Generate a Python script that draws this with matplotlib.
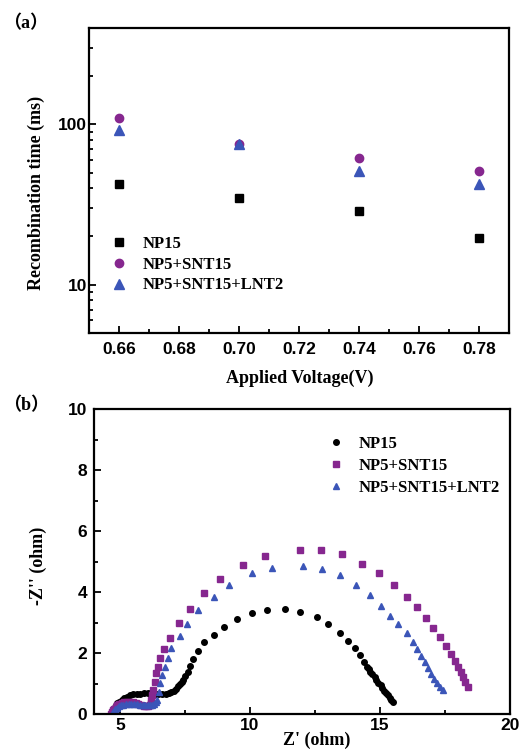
import matplotlib
matplotlib.use("Agg")
import matplotlib.pyplot as plt
from matplotlib.ticker import FixedLocator, NullFormatter, MultipleLocator

# ---- panel (a): recombination time ----
voltage = [0.66, 0.70, 0.74, 0.78]
tau_np15 = [42.2, 34.8, 28.9, 19.6]
tau_snt15 = [110, 75.8, 62, 51]
tau_lnt2 = [91.8, 75, 51.3, 42.6]

# ---- panel (b): Nyquist plots ----
np15_x = [4.65, 4.68, 4.72, 4.77, 4.83, 4.90, 4.98, 5.07, 5.17, 5.28, 5.40, 5.52, 5.65,
          5.78, 5.92, 6.06, 6.20, 6.34, 6.48, 6.62, 6.76, 6.88, 6.98, 7.08, 7.17, 7.25,
          7.32, 7.38, 7.44, 7.52, 7.60, 7.71, 7.82, 8.02, 8.25, 8.60, 8.99, 9.51, 10.06,
          10.67, 11.33, 11.92, 12.56, 13.02, 13.47, 13.77, 14.03, 14.22, 14.39, 14.51,
          14.56, 14.63, 14.71, 14.79, 14.86, 14.94, 15.02, 15.09, 15.16, 15.23, 15.30,
          15.37, 15.43, 15.49]
np15_y = [0.00, 0.08, 0.15, 0.22, 0.29, 0.36, 0.42, 0.48, 0.53, 0.58, 0.62, 0.65, 0.67,
          0.68, 0.69, 0.69, 0.69, 0.68, 0.67, 0.66, 0.67, 0.69, 0.72, 0.77, 0.84, 0.92,
          1.01, 1.07, 1.13, 1.26, 1.40, 1.58, 1.81, 2.08, 2.36, 2.59, 2.87, 3.11, 3.33,
          3.43, 3.45, 3.37, 3.18, 2.95, 2.66, 2.40, 2.19, 1.93, 1.73, 1.55,
          1.50, 1.40, 1.31, 1.21, 1.12, 1.04, 0.95, 0.86, 0.78, 0.70, 0.62,
          0.55, 0.48, 0.42]

snt15_x = [4.65, 4.68, 4.72, 4.77, 4.83, 4.90, 4.98, 5.07, 5.17, 5.27, 5.38, 5.49, 5.60,
           5.71, 5.82, 5.92, 6.01, 6.09, 6.15, 6.19, 6.21, 6.24, 6.27, 6.33, 6.40, 6.46,
           6.55, 6.69, 6.93, 7.26, 7.70, 8.25, 8.86, 9.75, 10.57, 11.91, 12.75, 13.55,
           14.30, 14.95, 15.53, 16.02, 16.41, 16.77, 17.04, 17.31, 17.55, 17.72, 17.87,
           17.99, 18.10, 18.19, 18.28, 18.37]
snt15_y = [0.00, 0.07, 0.13, 0.19, 0.24, 0.29, 0.33, 0.36, 0.39, 0.40, 0.41, 0.40, 0.38,
           0.35, 0.31, 0.28, 0.26, 0.27, 0.31, 0.38, 0.47, 0.63, 0.80, 1.07, 1.34, 1.56,
           1.84, 2.13, 2.51, 2.98, 3.45, 3.97, 4.44, 4.89, 5.20, 5.39, 5.39, 5.25,
           4.94, 4.62, 4.25, 3.86, 3.51, 3.16, 2.82, 2.52, 2.24, 1.99, 1.76,
           1.56, 1.38, 1.21, 1.06, 0.90]

lnt2_x = [4.70, 4.73, 4.77, 4.82, 4.88, 4.95, 5.03, 5.12, 5.22, 5.33, 5.44, 5.55, 5.66,
          5.77, 5.88, 5.98, 6.08, 6.17, 6.25, 6.32, 6.38, 6.43, 6.49, 6.55, 6.62, 6.72,
          6.84, 6.98, 7.29, 7.58, 8.02, 8.61, 9.19, 10.08, 10.84, 12.04, 12.78, 13.45,
          14.09, 14.62, 15.05, 15.40, 15.71, 16.02, 16.26, 16.44, 16.59, 16.72, 16.86,
          16.97, 17.07, 17.20, 17.32, 17.43]
lnt2_y = [0.00, 0.06, 0.12, 0.17, 0.22, 0.26, 0.29, 0.32, 0.34, 0.35, 0.35, 0.34, 0.33,
          0.31, 0.30, 0.29, 0.29, 0.30, 0.32, 0.35, 0.40, 0.47, 0.74, 1.02, 1.29, 1.56,
          1.84, 2.16, 2.56, 2.96, 3.41, 3.86, 4.25, 4.62, 4.79, 4.86, 4.75, 4.56,
          4.23, 3.91, 3.56, 3.23, 2.95, 2.66, 2.38, 2.13, 1.91, 1.72, 1.51,
          1.31, 1.15, 1.02, 0.89, 0.80]

labels = ['NP15', 'NP5+SNT15', 'NP5+SNT15+LNT2']
purple = '#86278f'
blue = '#3b55b8'

serif = 'Liberation Serif'
sans = 'Liberation Sans'


def style_axis(ax, xpad, ypad):
    for s in ax.spines.values():
        s.set_linewidth(1.6)
    ax.tick_params(which='both', direction='in', top=False, right=False, width=1.3)
    ax.tick_params(which='major', length=5)
    ax.tick_params(which='minor', length=3)
    ax.tick_params(axis='x', which='both', pad=xpad)
    ax.tick_params(axis='y', which='both', pad=ypad)
    for lab in ax.get_xticklabels() + ax.get_yticklabels():
        lab.set_fontfamily(sans)
        lab.set_fontweight('bold')
        lab.set_fontsize(12.5)


fig = plt.figure(figsize=(5.22, 7.49), dpi=100)
leg_font = {'family': serif, 'weight': 'bold', 'size': 12}

# panel (a)
ax1 = fig.add_axes([0.170, 0.5554, 0.805, 0.4076])
ax1.semilogy(voltage, tau_np15, 's', color='black', ms=5.5, label=labels[0])
ax1.semilogy(voltage, tau_snt15, 'o', color=purple, ms=6, label=labels[1])
ax1.semilogy(voltage, tau_lnt2, '^', color=blue, ms=7, label=labels[2])
ax1.set_xlim(0.65, 0.79)
ax1.set_ylim(5, 400)
ax1.xaxis.set_major_locator(MultipleLocator(0.02))
ax1.xaxis.set_minor_locator(MultipleLocator(0.01))
ax1.set_xticklabels([f'{v:.2f}' for v in ax1.get_xticks()])
ax1.yaxis.set_major_locator(FixedLocator([10, 100]))
ax1.yaxis.set_minor_locator(FixedLocator([6, 7, 8, 9, 20, 30, 40, 50, 60, 70, 80, 90, 200, 300]))
ax1.yaxis.set_minor_formatter(NullFormatter())
ax1.set_yticklabels(['10', '100'])
ax1.set_xlim(0.65, 0.79)
style_axis(ax1, 6.5, 1.2)
ax1.set_xlabel('Applied Voltage(V)', fontfamily=serif, fontweight='bold', fontsize=13)
ax1.set_ylabel('Recombination time (ms)', fontfamily=serif, fontweight='bold', fontsize=13)
ax1.xaxis.set_label_coords(0.503, -0.121)
ax1.yaxis.set_label_coords(-0.104, 0.46)
ax1.legend(loc='lower left', bbox_to_anchor=(0.016, 0.108), frameon=False, prop=leg_font,
           handletextpad=0.42, labelspacing=0.28, borderaxespad=0)
fig.text(0.005, 0.962, '（a）', family=[serif, 'Noto Sans CJK SC'], fontweight='bold', fontsize=13)

# panel (b)
ax2 = fig.add_axes([0.180, 0.0463, 0.797, 0.4072])
ax2.plot(np15_x, np15_y, 'o', color='black', ms=4, label=labels[0])
ax2.plot(snt15_x, snt15_y, 's', color=purple, ms=3.8, label=labels[1])
ax2.plot(lnt2_x, lnt2_y, '^', color=blue, ms=4.8, label=labels[2])
ax2.set_xlim(4, 20)
ax2.set_ylim(0, 10)
ax2.xaxis.set_major_locator(MultipleLocator(5))
ax2.xaxis.set_minor_locator(MultipleLocator(2.5))
ax2.yaxis.set_major_locator(MultipleLocator(2))
ax2.yaxis.set_minor_locator(MultipleLocator(1))
style_axis(ax2, 3, 4.8)
ax2.set_xlabel("Z' (ohm)", fontfamily=serif, fontweight='bold', fontsize=13)
ax2.set_ylabel("-Z'' (ohm)", fontfamily=serif, fontweight='bold', fontsize=13)
ax2.xaxis.set_label_coords(0.536, -0.058)
ax2.yaxis.set_label_coords(-0.113, 0.486)
ax2.legend(loc='upper left', bbox_to_anchor=(0.525, 0.936), frameon=False, prop=leg_font,
           handletextpad=0.35, labelspacing=0.37, borderaxespad=0)
fig.text(0.005, 0.453, '（b）', family=[serif, 'Noto Sans CJK SC'], fontweight='bold', fontsize=13)

fig.savefig('out.png', dpi=100)
